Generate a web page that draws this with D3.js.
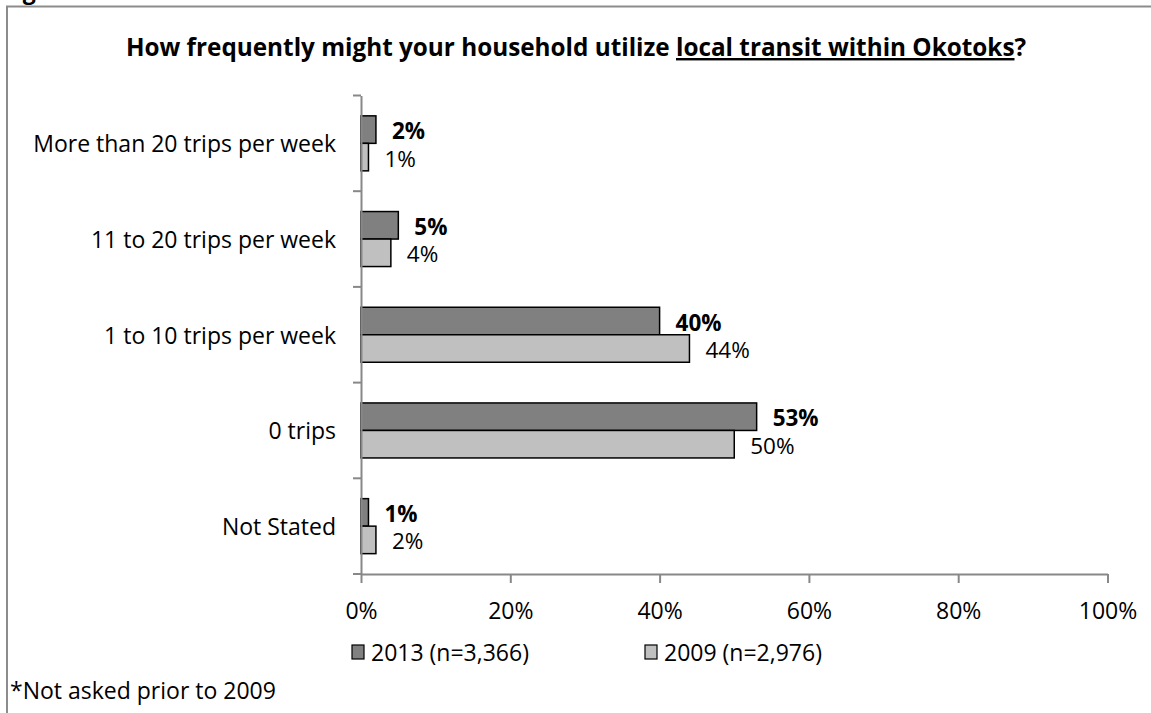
<!DOCTYPE html>
<html><head><meta charset="utf-8">
<script src="https://cdn.jsdelivr.net/npm/d3@7"></script>
<style>
body{margin:0;background:#fff;}
text{font-family:"Open Sans",Carlito,Calibri,sans-serif;fill:#000;}
</style></head>
<body>
<svg id="c" width="1151" height="713"></svg>
<script>
const categories = ["More than 20 trips per week","11 to 20 trips per week","1 to 10 trips per week","0 trips","Not Stated"];
const series = ["2013 (n=3,366)","2009 (n=2,976)"];
const values2013 = [2,5,40,53,1];
const values2009 = [1,4,44,50,2];
const xTicks = [0,20,40,60,80,100];
const colors = ["#808080","#c0c0c0"];

const svg = d3.select("#c");
const fs = 23;
const fsVal = 22.5;
const fsTitle = 24.3;

// outer frame
svg.append("path").attr("d","M7,713 L7,6.5 L1151,6.5").attr("fill","none").attr("stroke","#8c8c8c").attr("stroke-width",2);
svg.append("text").attr("x",3).attr("y",-1).attr("font-size",fs).attr("font-weight","bold").text("Figure");

// title
const title = svg.append("text").attr("x",576).attr("y",56).attr("text-anchor","middle").attr("font-size",fsTitle).attr("font-weight","bold");
title.append("tspan").text("How frequently might your household utilize ");
title.append("tspan").attr("text-decoration","underline").text("local transit within Okotoks");
title.append("tspan").text("?");

const x = d3.scaleLinear().domain([0,100]).range([361,1107.5]);
const y = d3.scaleBand().domain(categories).range([95.5,574]).paddingInner(0).paddingOuter(0);
const y1 = d3.scaleBand().domain(series).range([0,55]);
const off = (y.bandwidth()-55)/2;

const data = categories.map((c,i)=>({c, v:[values2013[i],values2009[i]]}));

const g = svg.append("g");
data.forEach(d=>{
  d.v.forEach((v,j)=>{
    const yy = y(d.c)+off+y1(series[j]);
    g.append("rect").attr("x",x(0)).attr("y",yy).attr("width",x(v)-x(0)).attr("height",y1.bandwidth())
      .attr("fill",colors[j]).attr("stroke","#000").attr("stroke-width",1.5);
    g.append("text").attr("x",x(v)+16).attr("y",yy+y1.bandwidth()/2+9.5).attr("font-size",fsVal)
      .attr("font-weight", j===0?"bold":"normal").text(v+"%");
  });
});

// y axis
const ya = svg.append("g").attr("transform","translate(361,0)")
  .call(d3.axisLeft(y).tickValues([]).tickSizeOuter(0));
ya.select(".domain").attr("stroke","#888").attr("stroke-width",2);
const yTickPos = categories.map(c=>y(c)).concat([y.range()[1]]);
yTickPos.forEach(p=>svg.append("line").attr("x1",353).attr("x2",361).attr("y1",p).attr("y2",p).attr("stroke","#888").attr("stroke-width",2));

// category labels
categories.forEach(c=>{
  svg.append("text").attr("x",336).attr("y",y(c)+y.bandwidth()/2+9).attr("text-anchor","end").attr("font-size",fs).text(c);
});

// x axis
const xa = svg.append("g").attr("transform","translate(0,574)")
  .call(d3.axisBottom(x).tickValues(xTicks).tickSize(9).tickSizeOuter(0).tickFormat(d=>d+"%"));
xa.select(".domain").attr("stroke","#888").attr("stroke-width",2);
xa.selectAll(".tick line").attr("stroke","#888").attr("stroke-width",2);
xa.selectAll(".tick text").attr("font-size",fs).attr("dy",0).attr("y",45).attr("fill","#000")
  .style("font-family","'Open Sans',Carlito,Calibri,sans-serif");

// legend
const legX = [352,645];
series.forEach((s,j)=>{
  svg.append("rect").attr("x",legX[j]).attr("y",645).attr("width",12).attr("height",14).attr("fill",colors[j]).attr("stroke","#000").attr("stroke-width",1.2);
  svg.append("text").attr("x",legX[j]+19).attr("y",661).attr("font-size",fs).text(s);
});

// footnote
svg.append("text").attr("x",10).attr("y",699).attr("font-size",fs).text("*Not asked prior to 2009");
</script>
</body></html>
